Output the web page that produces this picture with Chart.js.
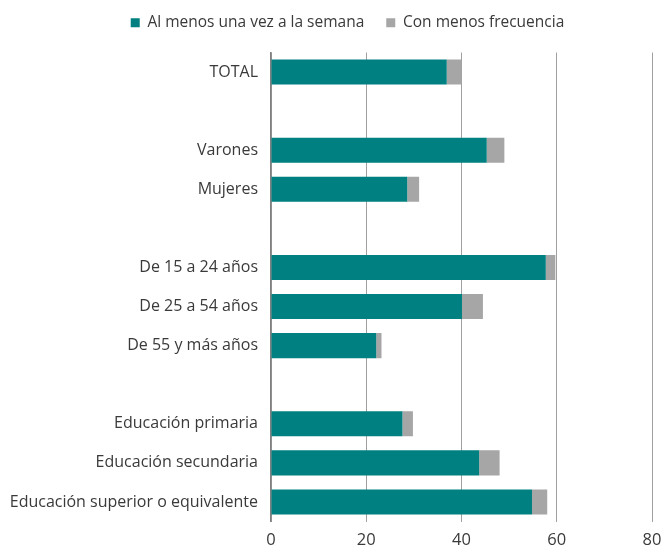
<!DOCTYPE html>
<html>
<head>
<meta charset="utf-8">
<script src="https://cdn.jsdelivr.net/npm/chart.js@4"></script>
<style>
  html, body { margin: 0; padding: 0; background: #fff; }
  #wrap { width: 665px; height: 545px; }
</style>
</head>
<body>
<div id="wrap"><canvas id="c" width="665" height="545"></canvas></div>
<script>
// Row labels; empty strings leave a gap between the groups
const categories = [
  'TOTAL', '',
  'Varones', 'Mujeres', '',
  'De 15 a 24 años', 'De 25 a 54 años', 'De 55 y más años', '',
  'Educación primaria', 'Educación secundaria', 'Educación superior o equivalente'
];
const semanal = [36.9, null, 45.3, 28.6, null, 57.7, 40.1, 22.1, null, 27.6, 43.7, 54.8];
const menosFrecuente = [3.1, null, 3.7, 2.5, null, 2.0, 4.4, 1.1, null, 2.2, 4.3, 3.2];
const xTicks = [0, 20, 40, 60, 80];

const FONT = '"Open Sans", sans-serif';
const TEXT = '#3a3a3a';

// Legend block: extra room below it, and centred over the bars
const legendPlacement = {
  id: 'legendPlacement',
  beforeInit(chart) {
    const fit = chart.legend.fit;
    chart.legend.fit = function () {
      fit.call(this);
      this.height += 12;
    };
  },
  afterLayout(chart) {
    chart.legend.left += 11;
    chart.legend.right += 11;
  }
};

new Chart(document.getElementById('c'), {
  type: 'bar',
  data: {
    labels: categories,
    datasets: [
      { label: 'Al menos una vez a la semana', data: semanal, backgroundColor: '#008080',
        barPercentage: 0.64, categoryPercentage: 1 },
      { label: 'Con menos frecuencia', data: menosFrecuente, backgroundColor: '#a6a6a6',
        barPercentage: 0.64, categoryPercentage: 1 }
    ]
  },
  plugins: [legendPlacement],
  options: {
    indexAxis: 'y',
    responsive: false,
    animation: false,
    layout: { padding: { left: 10, right: 2, top: -7, bottom: 0 } },
    plugins: {
      legend: {
        position: 'top',
        labels: {
          boxWidth: 9, boxHeight: 9, padding: 22,
          color: TEXT, font: { family: FONT, size: 15.5 }
        }
      },
      tooltip: { enabled: false }
    },
    scales: {
      x: {
        stacked: true,
        min: 0, max: 80,
        afterBuildTicks: (axis) => { axis.ticks = xTicks.map(v => ({ value: v })); },
        afterFit: (axis) => { axis.height = 23.5; axis.paddingRight = 13; axis.paddingLeft = 0; },
        grid: { color: '#a0a0a0', drawTicks: false },
        border: { display: false },
        ticks: { color: TEXT, font: { family: FONT, size: 16.5, lineHeight: 1 }, padding: 11 }
      },
      y: {
        stacked: true,
        afterFit: (axis) => { axis.width = 261; },
        grid: { display: false },
        border: { display: true, color: '#808080', width: 1.5 },
        ticks: { color: TEXT, font: { family: FONT, size: 16 }, autoSkip: false, padding: 5 }
      }
    }
  }
});
</script>
</body>
</html>
